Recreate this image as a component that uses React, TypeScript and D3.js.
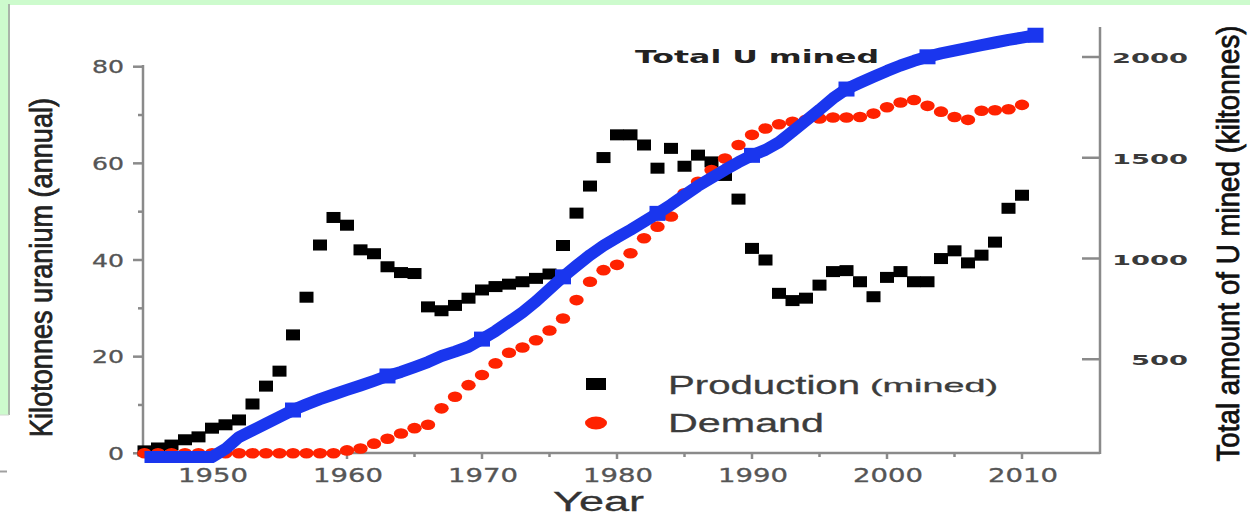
import React from 'react';
import * as d3 from 'd3';

const W = 1250;
const H = 518;

// Annual series start in 1945, one value per year
const FIRST_YEAR = 1945;

// Kilotonnes of uranium mined per year, 1945–2010
const production = [
  0.5, 1.1, 1.7, 2.8, 3.4, 5.2, 5.9, 6.9, 10.2, 13.9,
  17.0, 24.5, 32.3, 43.1, 48.8, 47.2, 42.1, 41.3, 38.6, 37.4,
  37.2, 30.3, 29.5, 30.6, 32.1, 33.8, 34.5, 35.0, 35.5, 36.2,
  37.1, 43.0, 49.7, 55.3, 61.2, 65.9, 65.9, 63.8, 59.0, 63.1,
  59.4, 61.7, 60.3, 57.5, 52.6, 42.4, 40.0, 33.1, 31.6, 32.1,
  34.8, 37.6, 37.8, 35.5, 32.4, 36.4, 37.6, 35.5, 35.5, 40.3,
  41.9, 39.4, 41.0, 43.7, 50.7, 53.4,
];

// Kilotonnes of uranium required by reactors per year, 1945–2010
const demand = [
  0, 0, 0, 0, 0, 0, 0, 0, 0, 0,
  0, 0, 0, 0, 0, 0.6, 1.0, 2.0, 3.0, 4.1,
  5.2, 5.9, 9.3, 11.7, 14.1, 16.2, 18.6, 20.8, 21.9, 23.4,
  25.4, 27.9, 31.7, 35.5, 37.9, 39.0, 41.4, 44.5, 46.9, 49.0,
  53.8, 56.2, 58.6, 61.0, 63.8, 65.9, 67.2, 68.1, 68.6, 69.0,
  69.3, 69.5, 69.5, 69.6, 70.3, 71.6, 72.6, 73.1, 71.9, 70.7,
  69.6, 69.0, 70.9, 71.0, 71.2, 72.1,
];

// Running total of uranium mined (kilotonnes), 1945–2011
const totalMined = [
  15, 15, 15, 15, 15, 15, 55, 114, 147, 181,
  214, 248, 276, 302, 325, 348, 370, 393, 417, 437,
  461, 486, 516, 538, 562, 600, 640, 686, 733, 787,
  848, 909, 964, 1017, 1064, 1104, 1142, 1183, 1224, 1267,
  1314, 1360, 1400, 1440, 1478, 1512, 1539, 1577, 1630, 1684,
  1738, 1795, 1841, 1872, 1902, 1931, 1958, 1981, 2001, 2018,
  2032, 2045, 2059, 2072, 2085, 2096, 2108,
];
const totalMarkerYears = [1956, 1963, 1970, 1976, 1983, 1990, 1997, 2003, 2011];

const annualTicks = [0, 20, 40, 60, 80];
const annualMinorTicks = [10, 30, 50, 70];
const totalTicks = [500, 1000, 1500, 2000];
const yearTicks = [1950, 1960, 1970, 1980, 1990, 2000, 2010];
const yearMinorTicks = [1955, 1965, 1975, 1985, 1995, 2005];

const PROD_COLOR = '#000000';
const DEMAND_COLOR = '#ff2200';
const TOTAL_COLOR = '#1a36ee';
const AXIS_COLOR = '#8a8a8a';
const FRAME_GREEN = '#cdfbcd';

const SANS = '"Liberation Sans", Arial, sans-serif';
const WIDE = '"DejaVu Sans", Verdana, sans-serif';

type Pt = { year: number; v: number };

export default function App() {
  const x = d3.scaleLinear().domain([1945, 2010]).range([144.5, 1022]);
  const yAnnual = d3.scaleLinear().domain([0, 80]).range([453.3, 66.7]);
  const yTotal = d3.scaleLinear().domain([0, 2000]).range([460, 57]);

  const prodPts: Pt[] = production.map((v, i) => ({ year: FIRST_YEAR + i, v }));
  const demandPts: Pt[] = demand.map((v, i) => ({ year: FIRST_YEAR + i, v }));
  const totalPts: Pt[] = totalMined.map((v, i) => ({ year: FIRST_YEAR + i, v }));

  const totalLine = d3
    .line<Pt>()
    .x((d) => x(d.year))
    .y((d) => yTotal(d.v));

  const leftX = 143;
  const rightX = 1100;
  const baseY = 453;

  const stretched = (len: number, chars: number) => (len / 4) * chars;

  return (
    <div style={{ position: 'absolute', left: 0, top: 0 }}>
      <svg width={W} height={H} viewBox={`0 0 ${W} ${H}`} style={{ display: 'block', background: '#fff' }}>
        {/* page frame */}
        <rect x={0} y={0} width={W} height={5} fill={FRAME_GREEN} />
        <rect x={0} y={0} width={8} height={415} fill={FRAME_GREEN} />
        <line x1={9} x2={9} y1={4} y2={415} stroke="#a9b5a9" strokeWidth={2} />
        <line x1={0} x2={9} y1={415} y2={415} stroke="#d0d8d0" strokeWidth={1} />
        <line x1={0} x2={7} y1={471.5} y2={471.5} stroke="#a0a0a0" strokeWidth={2} />

        {/* axes */}
        <g stroke={AXIS_COLOR} strokeWidth={2.5} fill="none">
          <line x1={leftX} x2={leftX} y1={65} y2={baseY + 1} />
          <line x1={leftX} x2={rightX} y1={baseY} y2={baseY} />
          <line x1={rightX} x2={rightX} y1={27} y2={baseY + 1} />
          {annualTicks.map((t) => (
            <line key={`la${t}`} x1={leftX - 10} x2={leftX} y1={yAnnual(t)} y2={yAnnual(t)} />
          ))}
          {annualMinorTicks.map((t) => (
            <line key={`lm${t}`} x1={leftX - 5} x2={leftX} y1={yAnnual(t)} y2={yAnnual(t)} />
          ))}
          {totalTicks.map((t) => (
            <line key={`ra${t}`} x1={rightX - 18} x2={rightX} y1={yTotal(t)} y2={yTotal(t)} />
          ))}
          {yearTicks.map((t) => (
            <line key={`xa${t}`} x1={x(t)} x2={x(t)} y1={baseY} y2={baseY + 6} />
          ))}
          {yearMinorTicks.map((t) => (
            <line key={`xm${t}`} x1={x(t)} x2={x(t)} y1={baseY} y2={baseY + 4} />
          ))}
        </g>

        {/* tick labels */}
        <g fontFamily={WIDE} fill="#555" fontSize={18} stroke="#555" strokeWidth={0.3}>
          {annualTicks.map((t) => {
            const s = String(t);
            return (
              <text key={`lt${t}`} x={124} y={yAnnual(t) + 6.5} textAnchor="end"
                textLength={s.length * 16} lengthAdjust="spacingAndGlyphs">{s}</text>
            );
          })}
          {yearTicks.map((t) => (
            <text key={`xt${t}`} x={x(t) + 1} y={482} fontSize={19} textAnchor="middle"
              textLength={70} lengthAdjust="spacingAndGlyphs">{t}</text>
          ))}
        </g>
        <g fontFamily={WIDE} fill="#3a3a3a" fontSize={14} fontWeight="bold">
          {totalTicks.map((t) => {
            const s = String(t);
            return (
              <text key={`rt${t}`} x={1188} y={yTotal(t) + 6} textAnchor="end"
                textLength={stretched(76, s.length)} lengthAdjust="spacingAndGlyphs">{s}</text>
            );
          })}
        </g>

        {/* axis titles */}
        <text transform="translate(51.5,267.5) scale(1.35,1) rotate(-90)" textAnchor="middle"
          fontFamily={SANS} fontSize={23} fill="#222" stroke="#222" strokeWidth={0.6}
          textLength={339} lengthAdjust="spacingAndGlyphs">
          Kilotonnes uranium (annual)
        </text>
        <text transform="translate(1239,243.5) scale(1.35,1) rotate(-90)" textAnchor="middle"
          fontFamily={SANS} fontSize={23} fill="#111" stroke="#111" strokeWidth={0.6}
          textLength={436} lengthAdjust="spacingAndGlyphs">
          Total amount of U mined (kiltonnes)
        </text>
        <text x={553} y={511} fontFamily={SANS} fontSize={27} fill="#333" stroke="#333" strokeWidth={0.3}
          textLength={91} lengthAdjust="spacingAndGlyphs">Year</text>

        {/* annual production */}
        <g fill={PROD_COLOR}>
          {prodPts.map((d) => (
            <rect key={`p${d.year}`} x={x(d.year) - 7} y={yAnnual(d.v) - 5.5} width={14} height={11} />
          ))}
        </g>

        {/* annual demand */}
        <g fill={DEMAND_COLOR}>
          {demandPts.map((d) => (
            <ellipse key={`d${d.year}`} cx={x(d.year)} cy={yAnnual(d.v)} rx={7.2} ry={5.3} />
          ))}
        </g>

        {/* cumulative total mined */}
        <path d={totalLine(totalPts) ?? ''} fill="none" stroke={TOTAL_COLOR} strokeWidth={12}
          strokeLinejoin="round" />
        <g fill={TOTAL_COLOR}>
          {totalMarkerYears.map((yr) => {
            const v = totalMined[yr - FIRST_YEAR];
            return <rect key={`m${yr}`} x={x(yr) - 8} y={yTotal(v) - 7.5} width={16} height={15} />;
          })}
        </g>
        <text x={635} y={63} fontFamily={WIDE} fontWeight="bold" fontSize={17} fill="#222"
          textLength={244} lengthAdjust="spacingAndGlyphs">Total U mined</text>

        {/* legend */}
        <rect x={586} y={378} width={20} height={12} fill={PROD_COLOR} />
        <ellipse cx={596} cy={423} rx={11} ry={6.5} fill={DEMAND_COLOR} />
        <g fontFamily={SANS} fill="#3c3c3c" stroke="#3c3c3c" strokeWidth={0.3}>
          <text x={668} y={394} fontSize={26} textLength={192} lengthAdjust="spacingAndGlyphs">Production</text>
          <text x={870} y={392} fontSize={19} textLength={128} lengthAdjust="spacingAndGlyphs">(mined)</text>
          <text x={668} y={432} fontSize={26} textLength={156} lengthAdjust="spacingAndGlyphs">Demand</text>
        </g>
      </svg>
    </div>
  );
}
